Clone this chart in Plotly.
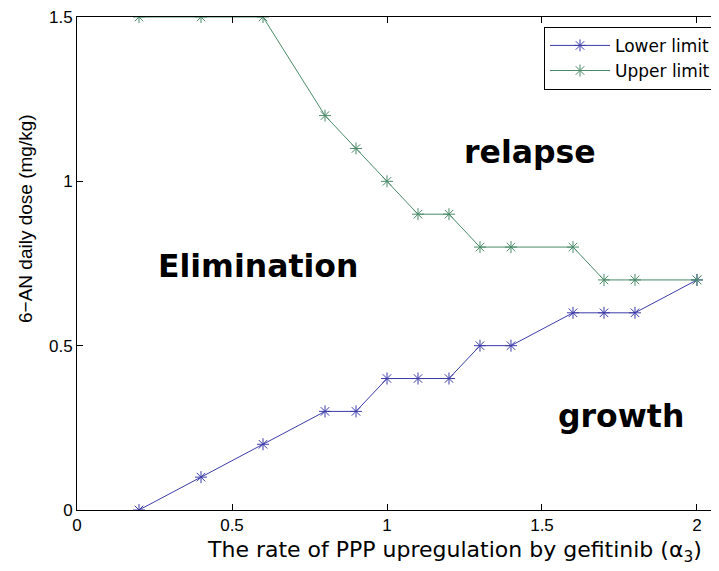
import plotly.graph_objects as go

x_vals = [0.2, 0.4, 0.6, 0.8, 0.9, 1.0, 1.1, 1.2, 1.3, 1.4, 1.6, 1.7, 1.8, 2.0]
lower_limit = [0.0, 0.1, 0.2, 0.3, 0.3, 0.4, 0.4, 0.4, 0.5, 0.5, 0.6, 0.6, 0.6, 0.7]
upper_limit = [1.5, 1.5, 1.5, 1.2, 1.1, 1.0, 0.9, 0.9, 0.8, 0.8, 0.8, 0.7, 0.7, 0.7]
x_ticks = [0, 0.5, 1, 1.5, 2]
x_tick_labels = ["0", "0.5", "1", "1.5", "2"]
y_ticks = [0, 0.5, 1, 1.5]
y_tick_labels = ["0", "0.5", "1", "1.5"]
region_labels = ["Elimination", "relapse", "growth"]
region_x = [0.584, 1.461, 1.755]
region_y = [0.742, 1.089, 0.286]
x_title = "The rate of PPP upregulation by gefitinib (α<sub>3</sub>)"
y_title = "6−AN daily dose (mg/kg)"

blue = "#3c3ca8"
green = "#4a8a68"

fig = go.Figure()
fig.add_trace(go.Scatter(x=x_vals, y=lower_limit, mode="lines+markers", name="Lower limit",
                         line=dict(color=blue, width=1),
                         marker=dict(symbol="asterisk-open", size=10, color=blue, line=dict(color=blue, width=1))))
fig.add_trace(go.Scatter(x=x_vals, y=upper_limit, mode="lines+markers", name="Upper limit",
                         line=dict(color=green, width=1),
                         marker=dict(symbol="asterisk-open", size=10, color=green, line=dict(color=green, width=1))))

for t, xx, yy in zip(region_labels, region_x, region_y):
    fig.add_annotation(x=xx, y=yy, text="<b>" + t + "</b>", showarrow=False,
                       font=dict(family="DejaVu Sans", size=31.5, color="black"))

# axis titles (MATLAB centers the x title on the full, partly cropped axis)
fig.add_annotation(xref="paper", yref="paper", x=(454 - 77) / 642, y=-41 / 493,
                   xanchor="center", yanchor="middle", showarrow=False, text=x_title,
                   font=dict(family="DejaVu Sans", size=22, color="black"))
fig.add_annotation(xref="paper", yref="paper", x=-(77 - 25) / 642, y=(510 - 219) / 493,
                   xanchor="center", yanchor="middle", showarrow=False, text=y_title, textangle=-90,
                   font=dict(family="Liberation Sans, Arial", size=19, color="black"))

axis_common = dict(showgrid=False, zeroline=False, showline=True, linecolor="black", linewidth=1,
                   ticks="inside", ticklen=6, tickcolor="black", mirror="ticks",
                   ticklabeloverflow="allow",
                   tickfont=dict(family="Liberation Sans, Arial", size=17, color="black"))

fig.update_layout(
    width=711, height=563,
    margin=dict(l=69, r=0, t=9, b=61),
    plot_bgcolor="white", paper_bgcolor="white",
    xaxis=dict(range=[0, 2.071], tickvals=x_ticks, ticktext=x_tick_labels, **axis_common),
    yaxis=dict(range=[0, 1.5], tickvals=y_ticks, ticktext=y_tick_labels, **axis_common),
    legend=dict(x=(716 - 77) / 642, y=0.98, xanchor="right", yanchor="top",
                bgcolor="white", bordercolor="black", borderwidth=1,
                font=dict(family="DejaVu Sans", size=17, color="black"),
                tracegroupgap=0, itemwidth=60),
    showlegend=True,
)

fig.write_html("out.html")
